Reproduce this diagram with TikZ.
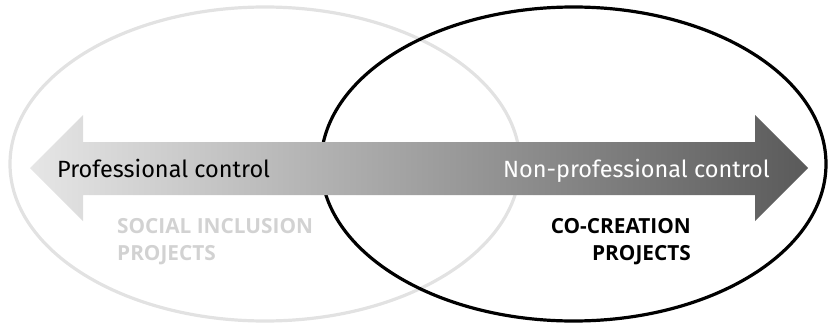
\documentclass[tikz,border=0pt]{standalone}
\usepackage{fontspec}
\setmainfont{Fira Sans}
\newfontfamily\groupfont{Open Sans}
\usetikzlibrary{shadings}
\definecolor{lightring}{HTML}{E2E2E2}
\definecolor{lighttext}{HTML}{D2D2D2}
\definecolor{arrowleft}{HTML}{E6E6E6}
\definecolor{arrowmid}{HTML}{C4C4C4}
\definecolor{arrowright}{HTML}{5A5A5A}
\tikzset{
  ring/.style={line width=3.2pt},
  biglabel/.style={font=\fontsize{23.5}{26}\selectfont, inner sep=0pt, anchor=base west},
  grouplabel/.style={font=\groupfont\fontsize{20.8}{27}\selectfont\bfseries, inner sep=0pt, align=left}
}
\begin{document}
\begin{tikzpicture}[x=1pt,y=-1pt]
\useasboundingbox (0,0) rectangle (828,332);
% light ellipse (social inclusion)
\draw[ring, draw=lightring] (265,164) ellipse [x radius=255, y radius=157];
% black ellipse (co-creation)
\draw[ring, draw=black] (573.5,164) ellipse [x radius=252.5, y radius=157];
% double arrow
\path[left color=arrowleft, middle color=arrowmid, right color=arrowright]
  (30,168) -- (83,115) -- (83,142) -- (755,142) -- (755,115) -- (808,168)
  -- (755,221) -- (755,195) -- (83,195) -- (83,221) -- cycle;
\node[biglabel, text=black] (pc) at (57,177) {Professional control};
\node[biglabel, text=white, anchor=base east] (npc) at (770,177) {Non-professional control};
\node[grouplabel, text=lighttext, anchor=north west] (sil) at (117,218) {SOCIAL INCLUSION\\PROJECTS};
\node[grouplabel, text=black, anchor=north east, align=right] (ccl) at (691,218) {CO-CREATION\\PROJECTS};
\end{tikzpicture}
\end{document}
